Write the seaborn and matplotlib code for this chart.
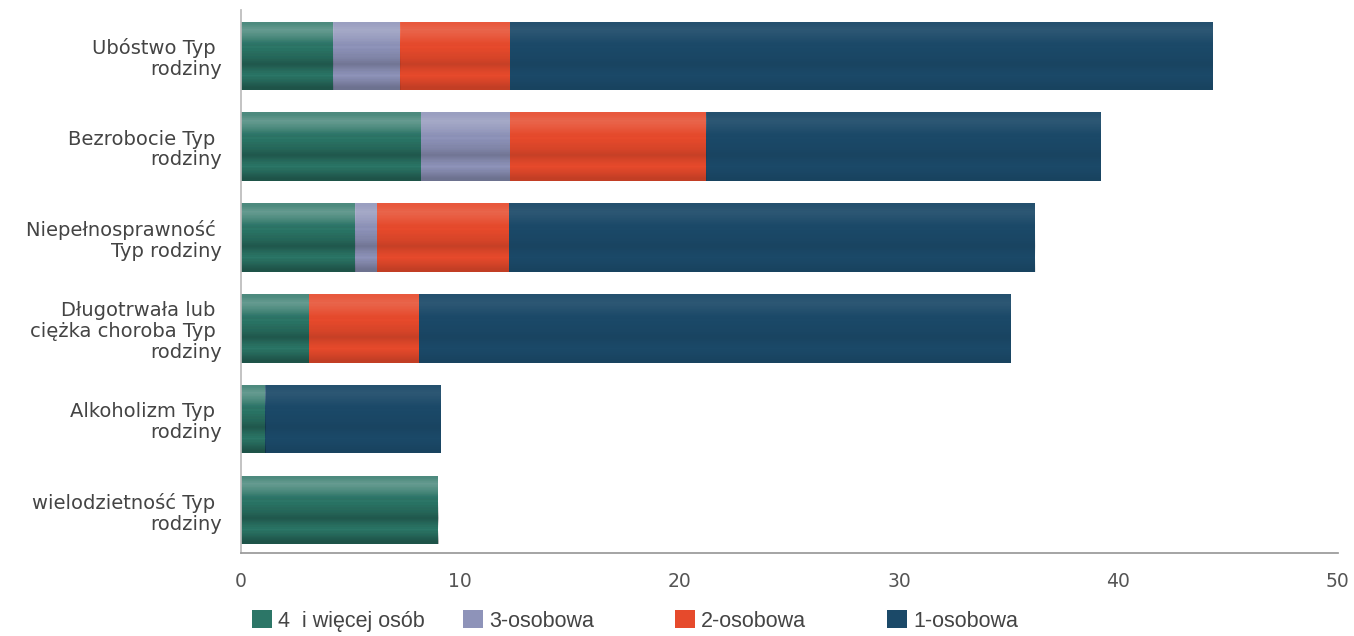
import matplotlib
matplotlib.use("Agg")
import matplotlib.pyplot as plt
import seaborn as sns
import pandas as pd
import numpy as np
from matplotlib.patches import Patch

categories = [
    "Ubóstwo Typ \nrodziny",
    "Bezrobocie Typ \nrodziny",
    "Niepełnosprawność \nTyp rodziny",
    "Długotrwała lub \nciężka choroba Typ \nrodziny",
    "Alkoholizm Typ \nrodziny",
    "wielodzietność Typ \nrodziny",
]
series_names = ["4  i więcej osób", "3-osobowa", "2-osobowa", "1-osobowa"]
four_plus = [4.2, 8.2, 5.2, 3.1, 1.1, 9.0]
three = [3.05, 4.05, 1.0, 0.0, 0.0, 0.0]
two = [5.0, 8.95, 6.0, 5.0, 0.0, 0.0]
one = [32.05, 18.0, 24.0, 27.0, 8.0, 0.0]
xticks = [0, 10, 20, 30, 40, 50]

colors = ["#2c7667", "#8e93b9", "#e64a2c", "#1b4968"]

sns.set_theme(style="white")
plt.rcParams["font.family"] = ["DejaVu Sans"]

fig = plt.figure(figsize=(13.54, 6.36), dpi=100)
ax = fig.add_axes([0.178, 0.1305, 0.810, 0.8535])

series = [four_plus, three, two, one]
cum = np.cumsum(np.array(series), axis=0)
df = pd.DataFrame({"cat": categories})
for i in range(4):
    df[f"c{i}"] = cum[i]

for i in range(3, -1, -1):
    sns.barplot(data=df, y="cat", x=f"c{i}", orient="h", color=colors[i],
                width=0.75, saturation=1, ax=ax, linewidth=0)

ax.set_xlim(0, 50)
ax.set_ylim(5.47, -0.5)

# subtle cylinder-like shading on every bar
prof = 0.45 * np.array([0.10, 0.18, 0.12, 0.04, 0.0, -0.04, -0.08, -0.16, -0.06, 0.0, -0.08, -0.18])
rgba = np.zeros((len(prof), 1, 4))
rgba[prof > 0, 0, :3] = 1.0
rgba[:, 0, 3] = np.abs(prof)
for p in list(ax.patches):
    x0, y0 = p.get_x(), p.get_y()
    w, h = p.get_width(), p.get_height()
    if w <= 0:
        continue
    im = ax.imshow(rgba, extent=(x0, x0 + w, y0 + h, y0), aspect="auto",
                   interpolation="bilinear", zorder=p.get_zorder() + 0.1)
    im.set_clip_path(p)
ax.set_xlim(0, 50)
ax.set_ylim(5.47, -0.5)

ax.set_xticks(xticks)
ax.set_xticklabels([str(t) for t in xticks])
ax.set_xlabel("")
ax.set_ylabel("")
ax.tick_params(axis="x", length=0, pad=14, labelsize=13.5, labelcolor="#555555")
ax.tick_params(axis="y", length=0, pad=14, labelsize=14, labelcolor="#444444")
for lab in ax.get_yticklabels():
    lab.set_horizontalalignment("right")
    lab.set_linespacing(1.12)
for s in ["top", "right"]:
    ax.spines[s].set_visible(False)
ax.spines["left"].set_color("#bbbbbb")
ax.spines["bottom"].set_color("#999999")
ax.grid(False)

legend_x = [252, 463, 675, 887]
for name, c, lx in zip(series_names, colors, legend_x):
    fig.legend([Patch(facecolor=c, edgecolor="none")], [name],
               loc="center left", bbox_to_anchor=(lx / 1354 - 0.0142, 1 - 621 / 636),
               frameon=False, prop={"family": "Liberation Sans", "size": 15.5},
               handlelength=0.9, handleheight=0.9, handletextpad=0.3,
               labelcolor="#444444")

fig.savefig("out.png", dpi=100)
